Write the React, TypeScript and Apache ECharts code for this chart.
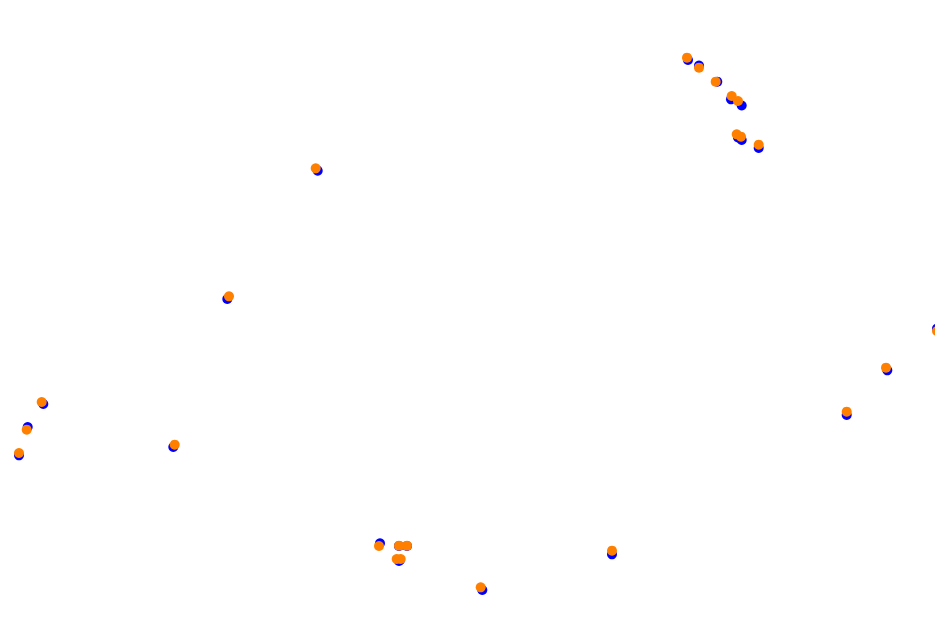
import React, { useEffect, useRef } from "react";
import * as echarts from "echarts";

// Positions (x to the right, y downward)
const orangeX = [687, 699, 715.7, 731.7, 738, 736.7, 741, 758.7, 315.7, 229, 41.7, 26.7, 19, 174.7, 379, 399, 407, 396.7, 400.7, 480.7, 612, 846.7, 886, 937];
const orangeY = [57.7, 67.7, 81.7, 96, 101, 134.3, 136.7, 144.7, 168.3, 296.3, 402, 429.7, 453, 444.7, 546, 545.7, 545.7, 559, 559, 587.3, 550.7, 411.7, 367.7, 331];
const blueX = [688, 699, 717.3, 731, 741.7, 738, 741.7, 758.7, 317.7, 227.3, 43.3, 27.7, 19, 173.3, 380, 399, 407, 399, 400, 482.3, 612, 846.7, 887.3, 937];
const blueY = [60, 65.5, 81.7, 99.3, 105.5, 137.5, 140, 148, 170.7, 299, 404, 427, 455.3, 447, 543.3, 546, 546, 561, 560, 590, 554.3, 415, 370.3, 328.5];

const xRange = [0, 935];
const yRange = [0, 622];

export default function App() {
  const ref = useRef<HTMLDivElement>(null);
  useEffect(() => {
    if (!ref.current) return;
    const chart = echarts.init(ref.current, undefined, { renderer: "svg" });
    chart.setOption({
      animation: false,
      backgroundColor: "#ffffff",
      grid: { left: 0, right: 0, top: 0, bottom: 0 },
      xAxis: { type: "value", min: xRange[0], max: xRange[1], show: false },
      yAxis: { type: "value", min: yRange[0], max: yRange[1], inverse: true, show: false },
      series: [
        {
          type: "scatter",
          clip: false,
          symbolSize: 10,
          itemStyle: { color: "#0000ff", opacity: 1 },
          emphasis: { disabled: true },
          data: blueX.map((x, i) => [x, blueY[i]]),
        },
        {
          type: "scatter",
          clip: false,
          symbolSize: 10,
          itemStyle: { color: "#ff8000", opacity: 1 },
          emphasis: { disabled: true },
          data: orangeX.map((x, i) => [x, orangeY[i]]),
        },
      ],
    });
    return () => chart.dispose();
  }, []);
  return (
    <div
      ref={ref}
      style={{ position: "fixed", left: 0, top: 0, width: 935, height: 622 }}
    />
  );
}
